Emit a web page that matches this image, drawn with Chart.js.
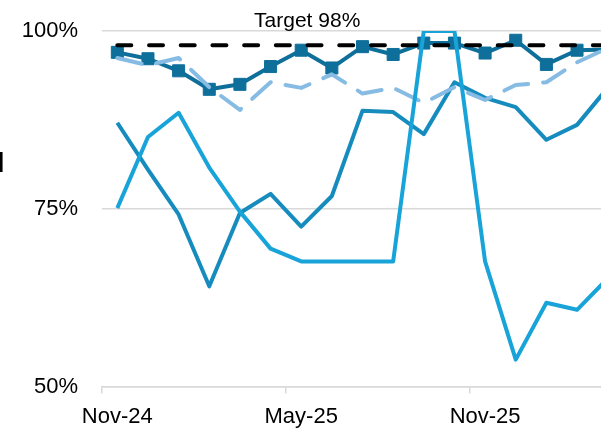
<!DOCTYPE html>
<html><head><meta charset="utf-8">
<script src="https://cdn.jsdelivr.net/npm/chart.js@4.4.1/dist/chart.umd.min.js"></script>
<style>
html,body{margin:0;padding:0;background:#fff;overflow:hidden;width:601px;height:428px;}
#wrap{position:absolute;left:0;top:0;width:640px;height:440px;}
#side{position:absolute;left:-3px;top:150px;font:bold 27px "Liberation Sans";color:#000;line-height:1;}
</style></head><body>
<div id="wrap"><canvas id="c" width="640" height="440"></canvas></div>
<div id="side">l</div>
<script>
const months = ['Nov-24','Dec-24','Jan-25','Feb-25','Mar-25','Apr-25','May-25','Jun-25','Jul-25','Aug-25','Sep-25','Oct-25','Nov-25','Dec-25','Jan-26','Feb-26','Mar-26'];
const yTickValues = [50, 75, 100];
const targetValue = 98;
const targetLabel = 'Target 98%';
const labelIndex = 6;
const seriesMarkers = [97.0,96.1,94.4,91.8,92.5,95.0,97.3,94.8,97.8,96.7,98.3,98.3,96.9,98.7,95.3,97.3,97.4];
const seriesDashed  = [96.2,95.2,96.2,92.1,88.9,92.8,92.0,93.9,91.2,92.0,89.9,92.1,90.3,92.4,92.8,95.6,97.6];
const seriesMedium  = [87.1,80.5,74.2,64.1,74.4,77.1,72.5,76.8,88.8,88.6,85.5,92.8,90.6,89.3,84.7,86.8,92.0];
const seriesBright  = [75.1,85.1,88.5,80.8,74.6,69.4,67.6,67.6,67.6,67.6,100,100,67.6,53.8,61.8,60.8,65.2];
const targetSeries = months.map(() => targetValue);

const FONT = '"Liberation Sans", Arial, sans-serif';
const GRID = '#d9d9d9';

const targetLabelPlugin = {
  id: 'targetLabel',
  afterDatasetsDraw(chart) {
    const {ctx, scales: {x, y}} = chart;
    ctx.save();
    ctx.font = '21px ' + FONT;
    ctx.fillStyle = '#000';
    ctx.textAlign = 'center';
    ctx.textBaseline = 'alphabetic';
    ctx.fillText(targetLabel, x.getPixelForValue(labelIndex) + 6, y.getPixelForValue(targetValue) - 18.5);
    ctx.restore();
  }
};

new Chart(document.getElementById('c'), {
  type: 'line',
  data: {
    labels: months,
    datasets: [
      {label: 'Target', data: targetSeries, borderColor: '#000', borderWidth: 4, borderDash: [14, 17.7], borderCapStyle: 'round', pointRadius: 0, fill: false},
      {label: 'Series 4', data: seriesBright, borderColor: '#18A3D9', borderWidth: 4, pointRadius: 0, borderJoinStyle: 'round', fill: false},
      {label: 'Series 2', data: seriesDashed, borderColor: '#86BBE3', borderWidth: 4, borderDash: [25, 15], borderCapStyle: 'round', borderJoinStyle: 'round', pointRadius: 0, fill: false},
      {label: 'Series 3', data: seriesMedium, borderColor: '#168CBE', borderWidth: 4, pointRadius: 0, borderJoinStyle: 'round', fill: false},
      {label: 'Series 1', data: seriesMarkers, borderColor: '#0E6F9B', borderWidth: 4, borderJoinStyle: 'round', pointStyle: 'rect', pointRadius: 8.5, pointBackgroundColor: '#0E6F9B', pointBorderColor: '#0E6F9B', pointBorderWidth: 1, fill: false}
    ]
  },
  options: {
    responsive: false,
    animation: false,
    devicePixelRatio: 1,
    layout: {autoPadding: false, padding: {left: 22, right: 17, top: 31, bottom: 0}},
    plugins: {legend: {display: false}, tooltip: {enabled: false}, title: {display: false}},
    scales: {
      y: {
        min: 50, max: 100,
        afterBuildTicks: (s) => { s.ticks = yTickValues.map(v => ({value: v})); },
        afterFit: (s) => { s.width = 80; s.paddingTop = 0; s.paddingBottom = 0; },
        ticks: {callback: (v) => v + '%', color: '#000', font: {family: FONT, size: 22}, padding: 24},
        grid: {color: GRID, lineWidth: 1.5, drawTicks: false},
        border: {display: false}
      },
      x: {
        offset: true,
        grid: {offset: true, drawOnChartArea: false, drawTicks: true, tickLength: 7, lineWidth: 1.5,
               tickColor: (c) => (c.index % 6 === 0 ? GRID : 'rgba(0,0,0,0)')},
        border: {display: true, color: GRID, width: 1.5},
        ticks: {autoSkip: false, maxRotation: 0, minRotation: 0, padding: 10, color: '#000',
                font: {family: FONT, size: 22},
                callback: (v, i) => (i % 6 === 0 ? months[i] : '')}
      }
    }
  },
  plugins: [targetLabelPlugin]
});
</script>
</body></html>
